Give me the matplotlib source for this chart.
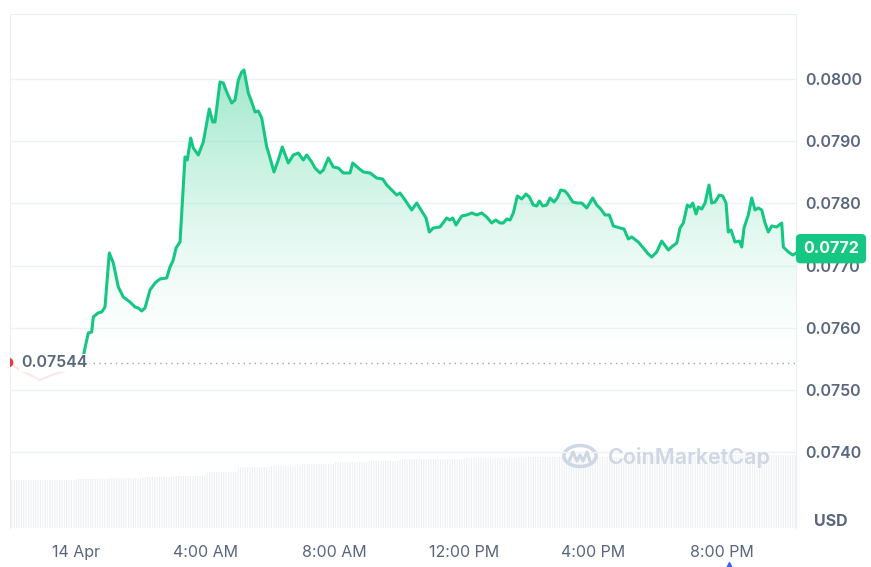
import numpy as np
import matplotlib
matplotlib.use("Agg")
import matplotlib.pyplot as plt
from matplotlib.colors import LinearSegmentedColormap
from matplotlib.lines import Line2D
from matplotlib.patches import Circle
import matplotlib.transforms as mtransforms

# price line, hours since 14 Apr 00:00 -> USD
hours = [0.19, 0.279, 0.381, 0.486, 0.536, 0.681, 0.796, 0.898, 1.031, 1.155, 1.310, 1.464,
         1.672, 1.827, 1.929, 2.034, 2.136, 2.291, 2.446, 2.601, 2.808, 2.910, 3.012, 3.096,
         3.220, 3.272, 3.375, 3.446, 3.551, 3.632, 3.786, 3.941, 4.127, 4.232, 4.303, 4.458,
         4.560, 4.666, 4.820, 4.923, 5.025, 5.130, 5.201, 5.334, 5.440, 5.542, 5.644, 5.749,
         5.904, 5.954, 6.130, 6.263, 6.387, 6.573, 6.728, 6.882, 7.037, 7.142, 7.297, 7.399,
         7.554, 7.656, 7.811, 7.966, 8.121, 8.276, 8.483, 8.567, 8.740, 8.895, 9.102, 9.310,
         9.495, 9.619, 9.774, 9.929, 10.031, 10.186, 10.393, 10.548, 10.703, 10.836, 10.938,
         11.062, 11.269, 11.477, 11.579, 11.663, 11.765, 11.941, 12.096, 12.251, 12.406,
         12.560, 12.715, 12.870, 12.994, 13.127, 13.229, 13.334, 13.437, 13.539, 13.663,
         13.799, 13.932, 14.034, 14.158, 14.263, 14.344, 14.449, 14.573, 14.675, 14.799,
         14.901, 15.006, 15.139, 15.241, 15.378, 15.520, 15.656, 15.811, 15.997, 16.121,
         16.245, 16.378, 16.511, 16.635, 16.842, 16.966, 17.099, 17.204, 17.409, 17.563,
         17.718, 17.824, 17.978, 18.133, 18.337, 18.474, 18.598, 18.700, 18.802, 18.926,
         19.009, 19.093, 19.195, 19.266, 19.372, 19.474, 19.598, 19.681, 19.783, 19.916,
         20.022, 20.124, 20.195, 20.279, 20.402, 20.536, 20.610, 20.681, 20.814, 20.920,
         21.022, 21.124, 21.229, 21.331, 21.433, 21.539, 21.693, 21.848, 21.898, 22.053,
         22.189, 22.291]
prices = [0.07544, 0.075675, 0.075916, 0.075932, 0.076174, 0.076238, 0.076254, 0.076334,
          0.077203, 0.077042, 0.076656, 0.076495, 0.076415, 0.076334, 0.076318, 0.076270,
          0.076318, 0.076608, 0.076720, 0.076785, 0.076801, 0.076977, 0.077090, 0.077283,
          0.077379, 0.077846, 0.078746, 0.078698, 0.079051, 0.078891, 0.078778, 0.078987,
          0.079518, 0.079309, 0.079309, 0.079952, 0.079936, 0.079791, 0.079614, 0.079662,
          0.079984, 0.080113, 0.080145, 0.079775, 0.079630, 0.079469, 0.079486, 0.079373,
          0.078907, 0.078826, 0.078505, 0.078698, 0.078907, 0.078650, 0.078778, 0.078810,
          0.078698, 0.078778, 0.078666, 0.078569, 0.078489, 0.078537, 0.078730, 0.078585,
          0.078569, 0.078489, 0.078489, 0.078650, 0.078569, 0.078505, 0.078489, 0.078408,
          0.078392, 0.078296, 0.078215, 0.078135, 0.078167, 0.078055, 0.077894, 0.078006,
          0.077878, 0.077765, 0.077540, 0.077605, 0.077621, 0.077765, 0.077733, 0.077765,
          0.077653, 0.077797, 0.077814, 0.077846, 0.077814, 0.077846, 0.077781, 0.077685,
          0.077733, 0.077685, 0.077685, 0.077749, 0.077733, 0.077846, 0.078119, 0.078071,
          0.078151, 0.078103, 0.077974, 0.077958, 0.078039, 0.077958, 0.077974, 0.078087,
          0.078023, 0.078087, 0.078215, 0.078199, 0.078135, 0.078023, 0.078006, 0.078006,
          0.077926, 0.078087, 0.077974, 0.077910, 0.077814, 0.077814, 0.077637, 0.077605,
          0.077588, 0.077428, 0.077460, 0.077379, 0.077283, 0.077186, 0.077138, 0.077219,
          0.077395, 0.077251, 0.077315, 0.077363, 0.077605, 0.077685, 0.077974, 0.077942,
          0.078006, 0.077830, 0.077942, 0.077910, 0.078006, 0.078296, 0.078006, 0.078023,
          0.078135, 0.078119, 0.078006, 0.077540, 0.077572, 0.077379, 0.077395, 0.077299,
          0.077605, 0.077814, 0.078087, 0.077894, 0.077926, 0.077894, 0.077685, 0.077540,
          0.077637, 0.077621, 0.077685, 0.077299, 0.077219, 0.077170, 0.07720]

# faded previous-day segment
prev_hours = [-2.1, -1.73, -1.11, -0.65, -0.19, 0.19]
prev_prices = [0.07545, 0.07532, 0.07516, 0.07526, 0.07532, 0.07544]

open_price = 0.07544
last_price = 0.0772

# volume (arbitrary units), one per hour
vol_hours = list(range(-2, 23))
volumes = [48, 48.5, 49, 50, 51, 52, 56, 61, 62, 64, 66, 67, 69, 69.5, 70, 70.5, 71, 71,
           71.5, 72, 72, 72.5, 73, 73, 73]

yticks = [0.0740, 0.0750, 0.0760, 0.0770, 0.0780, 0.0790, 0.0800]
xtick_pos = [0, 4, 8, 12, 16, 20]
xtick_labels = ["14 Apr", "4:00 AM", "8:00 AM", "12:00 PM", "4:00 PM", "8:00 PM"]

GREEN = "#16c784"
GRAY = "#58667e"
GRID = "#eff2f5"

plt.rcParams['font.family'] = ['Inter', 'DejaVu Sans']

fig = plt.figure(figsize=(8.71, 5.67), dpi=100)
ax = fig.add_axes([10/871, 1-528/567, 786/871, 514/567])
ax2 = ax.twinx()
ax.set_zorder(ax2.get_zorder() + 1)
ax.patch.set_visible(False)

x0, x1 = -2.043, 22.29
y0, y1 = 0.072781, 0.081045

# volume bars
ax2.bar(vol_hours, volumes, width=1.0, align='edge', color='#eceef2',
        edgecolor='white', hatch='|||||||', linewidth=0)
ax2.set_ylim(0, 514)
ax2.set_xlim(x0, x1)
ax2.axis('off')

# gradient fill between line and the open price
poly = ax.fill_between(hours, prices, open_price, color='none')
cmap = LinearSegmentedColormap.from_list('g', [(1, 1, 1, 0), (22/255, 199/255, 132/255, 0.40)])
grad = (np.linspace(0, 1, 256) ** 0.75).reshape(-1, 1)
img = ax.imshow(grad, cmap=cmap, aspect='auto', origin='lower',
                extent=[x0, x1, open_price, 0.0801], zorder=1)
img.set_clip_path(poly.get_paths()[0], transform=ax.transData)

ax.plot(prev_hours, prev_prices, color='#ea3943', lw=1.5, alpha=0.12, zorder=2)
ax.plot(prev_hours[0], prev_prices[0], 'o', color='#ea3943', ms=6, zorder=3)
ax.plot(hours, prices, color=GREEN, lw=2.2, zorder=4, solid_joinstyle='round')
ax.hlines(open_price, hours[0], x1, colors='#9aa3b2', linestyles=(0, (1, 3)), lw=1, zorder=2)
ax.text(-1.7, open_price, "0.07544", ha='left', va='center', fontsize=11.5,
        fontweight='semibold', color=GRAY, zorder=5,
        bbox=dict(boxstyle='square,pad=0.1', fc='white', ec='none'))

ax.set_xlim(x0, x1)
ax.set_ylim(y0, y1)
ax.set_yticks(yticks)
ax.set_yticklabels([f"{v:.4f}" for v in yticks])
ax.yaxis.tick_right()
ax.set_xticks(xtick_pos)
ax.set_xticklabels(xtick_labels)
ax.tick_params(axis='y', length=0, pad=7, labelsize=11.5, labelcolor=GRAY)
ax.tick_params(axis='x', length=0, pad=12, labelsize=11.5, labelcolor=GRAY)
for lab in ax.get_yticklabels():
    lab.set_fontweight('semibold')
ax.grid(axis='y', color=GRID, lw=1)
ax.set_axisbelow(True)
for side in ['left', 'top', 'right']:
    ax.spines[side].set_color('#eceff2')
ax.spines['bottom'].set_visible(False)

# last price badge
blend = mtransforms.blended_transform_factory(ax.transAxes, ax.transData)
ax.text(1.0445, 0.077272, "0.0772", transform=blend, ha='center', va='center',
        fontsize=11.5, fontweight='bold', color='white', zorder=10, clip_on=False,
        bbox=dict(boxstyle='round,pad=0.45,rounding_size=0.3', fc=GREEN, ec='none'))

ax.text(1.0445, 0.012, "USD", transform=ax.transAxes, ha='center', va='center',
        fontsize=11.5, fontweight='bold', color=GRAY)

# watermark
fig.text(608/871, 1-458/567, "CoinMarketCap", fontsize=15.5, fontweight='semibold',
         color='#cfd6e4', ha='left', va='center')
fig.add_artist(Circle((580/871, 1-456/567), 0.0185, transform=fig.transFigure,
                      fill=False, ec='#cfd6e4', lw=2.5))
fig.add_artist(Line2D(np.array([569, 573, 577, 580, 583, 587, 590]) / 871,
                      1 - np.array([461, 452, 461, 455, 461, 452, 461]) / 567,
                      color='#cfd6e4', lw=2.2, transform=fig.transFigure))
fig.add_artist(Line2D([729/871], [1-565/567], marker='^', color='#3861fb', ms=5,
                      transform=fig.transFigure))

fig.savefig("out.png", dpi=100)
